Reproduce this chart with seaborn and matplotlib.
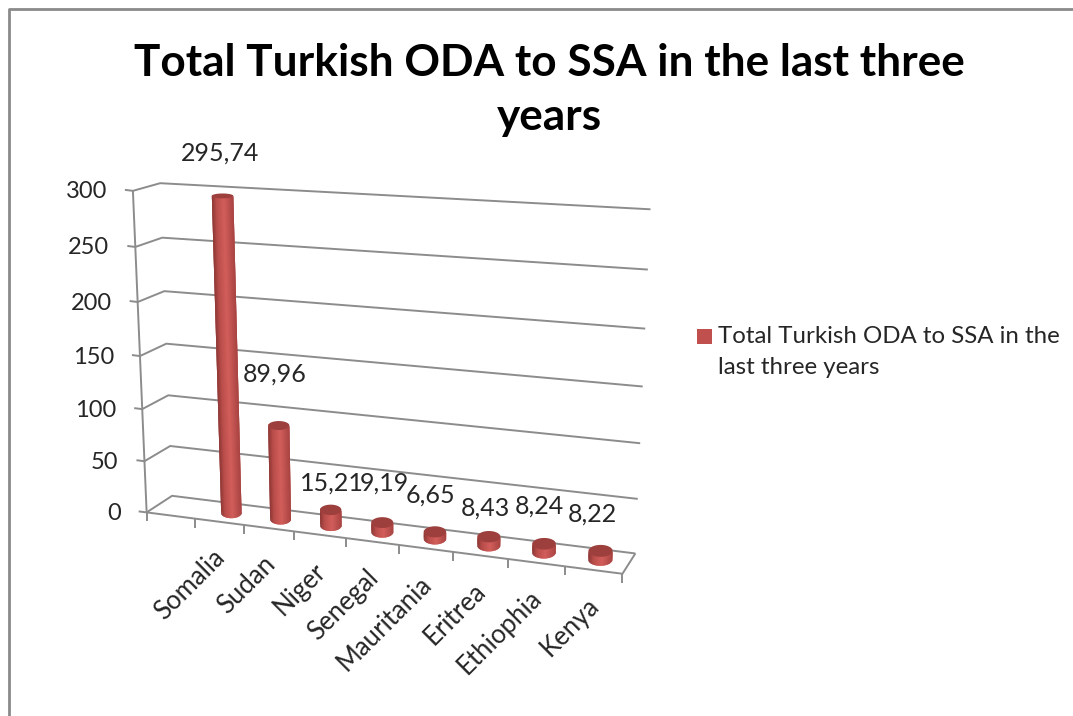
import numpy as np
import pandas as pd
import matplotlib
matplotlib.use("Agg")
import matplotlib.pyplot as plt
from matplotlib.transforms import Affine2D, Transform
import seaborn as sns

# ---- chart values -------------------------------------------------------
countries = ["Somalia", "Sudan", "Niger", "Senegal", "Mauritania", "Eritrea", "Ethiophia", "Kenya"]
oda_values = [295.74, 89.96, 15.21, 9.19, 6.65, 8.43, 8.24, 8.22]
value_labels = ["295,74", "89,96", "15,21", "9,19", "6,65", "8,43", "8,24", "8,22"]
y_ticks = [0, 50, 100, 150, 200, 250, 300]
chart_title = "Total Turkish ODA to SSA in the last three\nyears"
legend_text = "Total Turkish ODA to SSA in the\nlast three years"

# ---- layout and style ---------------------------------------------------
W, H = 1073, 716
FONT = "Lato"
TEXT = "#262626"
GRID = "#8c8c8c"
BAR = "#c0504d"
N_SLOTS = 9          # the category axis holds one empty slot before Somalia
RADIUS_X, RADIUS_D = 0.21, 0.3
label_offsets = [(-2, -43), (-4, -51), (1, -27), (2, -39), (-5, -37), (-4, -29), (-5, -38), (-8, -37)]

sns.set_theme(style="white")
plt.rcParams["font.family"] = [FONT, "DejaVu Sans"]

# Perspective camera: (slot, depth, value) to image pixels, solved from the
# corners of the chart box. Depth runs from 0 at the front to 1 at the wall.
box_corners = [
    ((0, 0, 0), (146, 513)), ((0, 0, 300), (132, 192)), ((0, 0, 150), (141, 355)),
    ((0, 1, 0), (172, 496)), ((0, 1, 300), (160, 183)), ((0, 1, 150), (167, 343)),
    ((9, 1, 0), (635, 554)), ((9, 1, 300), (651, 209)), ((9, 1, 150), (642, 387)),
    ((9, 0, 0), (623, 573)),
]
rows = []
for (a, b, c), (u, v) in box_corners:
    rows.append([a, b, c, 1, 0, 0, 0, 0, -u * a, -u * b, -u * c, -u])
    rows.append([0, 0, 0, 0, a, b, c, 1, -v * a, -v * b, -v * c, -v])
# Precondition the value axis so the solve stays well balanced.
A = np.array(rows, dtype=float)
A[:, [2, 6, 10]] /= 300.0
CAMERA = np.linalg.svd(A)[2][-1].reshape(3, 4)
CAMERA[:, 2] /= 300.0


def project(slot, depth, value):
    shape = np.broadcast(slot, depth, value).shape
    pts = np.stack([np.broadcast_to(c, shape).astype(float) for c in (slot, depth, value)]
                   + [np.ones(shape)], axis=-1)
    hom = pts @ CAMERA.T
    return hom[..., 0] / hom[..., 2], hom[..., 1] / hom[..., 2]


class WallPlane(Transform):
    """Maps (slot, value) on a plane of constant depth to display pixels."""
    input_dims = output_dims = 2
    is_separable = False

    def __init__(self, plane_depth):
        super().__init__()
        self.plane_depth = plane_depth

    def transform_non_affine(self, values):
        values = np.asarray(values, dtype=float)
        px, py = project(values[:, 0], self.plane_depth, values[:, 1])
        return np.column_stack([px, H - py])


fig = plt.figure(figsize=(W / 100, H / 100), dpi=100, facecolor="white")
ax = fig.add_axes([0, 0, 1, 1])
ax.set_axis_off()
pixels = Affine2D().scale(1, -1).translate(0, H)


def line(xs, ys, color=GRID, lw=1.4, z=2):
    ax.plot(xs, ys, color=color, lw=lw, transform=pixels, clip_on=False, zorder=z,
            solid_capstyle="butt")


# Outer chart border
line([9, 9, W], [H, 9, 9], color="#8a8a8a", lw=2.0)

# Back wall and side wall grid lines, with value ticks
for v in y_ticks:
    fx, fy = project(0, 0, v)
    bx, by = project(0, 1, v)
    rx, ry = project(9, 1, v)
    line([fx - 8, fx, bx, rx], [fy - 1, fy, by, ry])
    ax.text(float(fx) - 26, float(fy) + 1, str(v), transform=pixels, ha="right", va="center",
            fontsize=17, color=TEXT)

# Axis lines and floor outline
line(*project(np.array([0, 0]), 0, np.array([0, 300])))
line(*project(np.array([0, 9, 9]), np.array([0, 0, 1]), 0))

# Category ticks and rotated names
for i in range(N_SLOTS + 1):
    x, y = project(i, 0, 0)
    line([x, x], [y, y + 9])
for i, name in enumerate(countries):
    x, y = project(i + 1.5, 0, 0)
    ax.text(float(x) + 2, float(y) + 32, name, transform=pixels, rotation=45, rotation_mode="anchor",
            ha="right", va="center", fontsize=18.5, color=TEXT)

# Bars: seaborn lays out the central plane of each column from the values
frame = pd.DataFrame({"slot": np.arange(len(countries)) + 1.5, "oda": oda_values})
before = len(ax.patches)
sns.barplot(data=frame, x="slot", y="oda", native_scale=True, width=2 * RADIUS_X,
            color=BAR, saturation=1, ax=ax, zorder=3)
ax.set_axis_off()
mid_plane = WallPlane(0.5)
for patch in ax.patches[before:]:
    patch.set_transform(mid_plane)
    patch.set_clip_on(False)
    patch.set_linewidth(0)


def rim(cx, value, t):
    """Pixel position on the level ellipse of a column at the given value."""
    px, py = project(cx, 0.5, value)
    left, _ = project(cx - RADIUS_X, 0.5, value)
    _, near = project(cx, 0.5 - RADIUS_D, value)
    _, far = project(cx, 0.5 + RADIUS_D, value)
    return px + (px - left) * np.cos(t), py - 0.5 * (near - far) * np.sin(t)


# Cylinder surface wrapped around each column, shaded across its width
stops = np.array([0.0, 0.45, 0.8, 1.0])
shades = np.array([[0xa8, 0x44, 0x42], [0xd3, 0x5e, 0x5b], [0xb8, 0x4c, 0x49], [0x8a, 0x36, 0x34]]) / 255.0
angles = np.linspace(np.pi, 2 * np.pi, 37)
for i, value in enumerate(oda_values):
    cx = i + 1.5
    for k in range(len(angles) - 1):
        # Each facet runs under the next one so no seams show between them
        t0, t1 = angles[k], angles[min(k + 2, len(angles) - 1)]
        s = 1 - 0.5 * (1 + np.cos(0.5 * (angles[k] + angles[k + 1])))
        tone = [np.interp(s, stops, shades[:, c]) for c in range(3)]
        arc = np.linspace(t0, t1, 4)
        bx, by = rim(cx, 0, arc)
        tx, ty = rim(cx, value, arc[::-1])
        ax.fill(np.concatenate([bx, tx]), np.concatenate([by, ty]), color=tone, lw=0,
                transform=pixels, clip_on=False, zorder=4)
    ring = np.linspace(0, 2 * np.pi, 60)
    px, py = rim(cx, value, ring)
    ax.fill(px, py, color="#9c3f3d", lw=0, transform=pixels, clip_on=False, zorder=5)

    # Value label above the column top
    tx, ty = project(cx, 0.5, value)
    dx, dy = label_offsets[i]
    ax.text(float(tx) + dx, float(ty) + dy, value_labels[i], transform=pixels, ha="center", va="center",
            fontsize=18, color=TEXT, zorder=6)

# Title and legend
ax.text(549, 90, chart_title, transform=pixels, ha="center", va="center", fontsize=31.8,
        fontweight="bold", color="black", linespacing=1.45)
ax.fill([697, 712, 712, 697], [329, 329, 344, 344], color=BAR, lw=0, transform=pixels, clip_on=False)
ax.text(718, 352, legend_text, transform=pixels, ha="left", va="center", fontsize=17.3,
        color=TEXT, linespacing=1.55)

ax.set_xlim(0, 1)
ax.set_ylim(0, 1)
fig.savefig("out.png", dpi=100)
